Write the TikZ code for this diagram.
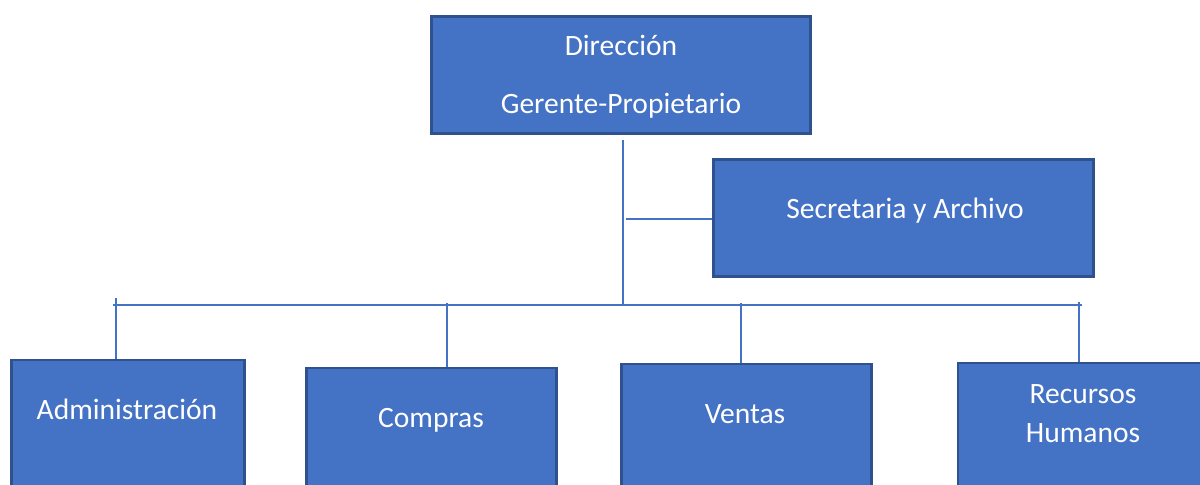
\documentclass[tikz,border=0pt]{standalone}
\usepackage{fontspec}
\setmainfont{Carlito}
\definecolor{boxblue}{HTML}{4472C4}
\definecolor{boxedge}{HTML}{2F528F}

\begin{document}
\begin{tikzpicture}
		[%%%%%%%%%%%%%%%%%%%%%%%%%%%%%%
		x=0.025cm,y=-0.025cm,
		box/.style={rectangle,draw=boxedge,fill=boxblue,line width=2.1pt,inner sep=0pt},
		conn/.style={draw=boxblue,line width=1pt},
		lbl/.style={text=white,font=\fontsize{21}{24}\selectfont,anchor=base},
		]%%%%%%%%%%%%%%%%%%%%%%%%%%%%%%
		
		\useasboundingbox (0,0) rectangle (1200,485);
		\clip (0,0) rectangle (1200,485);
		
		\node[box,minimum width=9.475cm,minimum height=2.925cm] (dir) at (621,75){};
		\node[box,minimum width=9.5cm,minimum height=2.925cm] (sec) at (903.5,218){};
		\node[box,anchor=north,minimum width=5.825cm,minimum height=3.5cm] (admin) at (128,358.5){};
		\node[box,anchor=north,minimum width=6.25cm,minimum height=3.5cm] (comp) at (431.5,366.5){};
		\node[box,anchor=north,minimum width=6.25cm,minimum height=3.5cm] (vent) at (746.5,362.5){};
		\node[box,anchor=north,minimum width=6.25cm,minimum height=3.5cm] (rh) at (1083,361.5){};
		
		\node[lbl] (dir-a) at (621,56) {Dirección};
		\node[lbl] (dir-b) at (621,114) {Gerente-Propietario};
		\node[lbl] (sec-a) at (905,218) {Secretaria y Archivo};
		\node[lbl] (admin-a) at (127,419) {Administración};
		\node[lbl] (comp-a) at (431,427) {Compras};
		\node[lbl] (vent-a) at (745,423) {Ventas};
		\node[lbl] (rh-a) at (1083,403) {Recursos};
		\node[lbl] (rh-b) at (1083,442) {Humanos};
		
		% tronco y barra
		\coordinate (trunk) at (623,140);
		\coordinate (bus-l) at (113,305);
		\coordinate (bus-r) at (1082,305);
		\coordinate (arm) at (626,219);
		\draw[conn] (trunk) -- (trunk |- bus-l);
		\draw[conn] (bus-l) -- (bus-r);
		\draw[conn] (arm) -- (arm -| sec.west);
		
		\foreach \n/\x/\y in {admin/116/298,comp/447/303,vent/741/303,rh/1079/302}{
			\coordinate (top-\n) at (\x,\y);
			\draw[conn] (top-\n) -- (top-\n |- \n.north);
		}
		\end{tikzpicture}
\end{document}
